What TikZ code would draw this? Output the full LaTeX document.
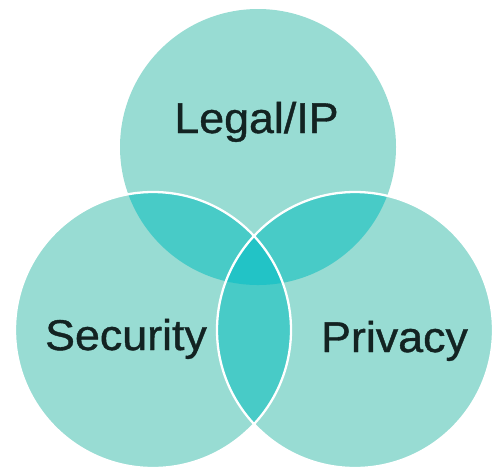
\documentclass[tikz,border=0pt]{standalone}
\usepackage{fontspec}
\setmainfont{Liberation Sans}
\newfontfamily\vennfont{Liberation Sans}[BoldFont=Liberation Sans,
  BoldFeatures={FakeBold=0.9}]
\definecolor{vennlight}{HTML}{98DCD3}
\definecolor{vennpair}{HTML}{48CBC7}
\definecolor{venncore}{HTML}{22C3C6}
\definecolor{venntext}{HTML}{132322}
\tikzset{
  vennlabel/.style={anchor=base, xscale=1.04, text=venntext,
    font=\vennfont\bfseries\fontsize{24.5}{28}\selectfont}
}
\begin{document}
\begin{tikzpicture}
  \useasboundingbox (0,0) rectangle (9.88,-9.40);
  \def\legalset{(5.16,-2.94) circle (2.76)}
  \def\securityset{(3.06,-6.60) circle (2.76)}
  \def\privacyset{(7.10,-6.60) circle (2.76)}
  % the three sets
  \fill[vennlight] \legalset \securityset \privacyset;
  % pairwise overlaps
  \begin{scope}
    \clip \legalset;
    \fill[vennpair] \securityset \privacyset;
  \end{scope}
  \begin{scope}
    \clip \securityset;
    \fill[vennpair] \privacyset;
  \end{scope}
  % all three
  \begin{scope}
    \clip \legalset;
    \clip \securityset;
    \fill[venncore] \privacyset;
  \end{scope}
  \draw[white, line width=1.3pt] \securityset \privacyset;
  % labels
  \node[vennlabel] (legal) at (5.13,-2.66) {Legal/IP};
  \node[vennlabel] (security) at (2.52,-7.00) {Security};
  \node[vennlabel] (privacy) at (7.89,-7.04) {Privacy};
\end{tikzpicture}
\end{document}
